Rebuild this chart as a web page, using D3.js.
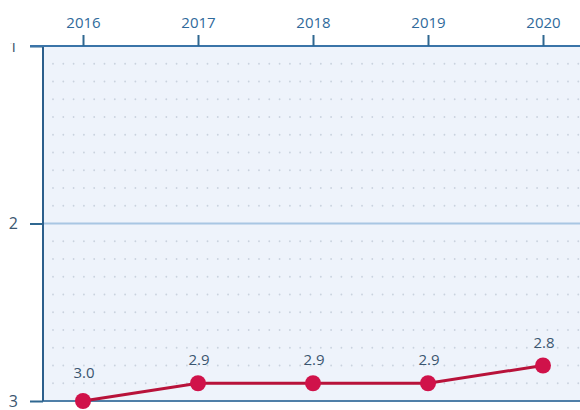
<!DOCTYPE html>
<html><head><meta charset="utf-8">
<script src="https://cdn.jsdelivr.net/npm/d3@7"></script>
<style>body{margin:0;background:#fff}svg{display:block}</style>
</head><body>
<svg id="c" width="580" height="410"></svg>
<script>
const years = ["2016","2017","2018","2019","2020"];
const values = [3.0, 2.9, 2.9, 2.9, 2.8];
const yTicks = [1, 2, 3];

(function () {
const svg = d3.select("#c");
const W = 580, H = 410;
const mLeft = 43, mTop = 46, mBottom = 401;
const font = "'Open Sans', sans-serif";

const x = d3.scalePoint().domain(years).range([83, 543]);
const y = d3.scaleLinear().domain([1, 3]).range([mTop, mBottom]);

// plot background
svg.append("rect").attr("x", mLeft).attr("y", mTop).attr("width", W - mLeft).attr("height", mBottom - mTop).attr("fill", "#eef3fb");

// dotted grid every 0.1
const grid = d3.range(11, 30).map(d => d / 10).filter(d => d !== 2);
const dotXs = d3.range(mLeft + 10, W, 10.3);
const gg = svg.append("g");
grid.forEach(v => {
  gg.append("g").selectAll("circle").data(dotXs).join("circle")
    .attr("cx", d => d).attr("cy", y(v)).attr("r", 0.9).attr("fill", "#c9d2de");
});

// solid line at 2
svg.append("line").attr("x1", mLeft).attr("x2", W).attr("y1", y(2)).attr("y2", y(2))
  .attr("stroke", "#a8c6e3").attr("stroke-width", 2);

// y axis
const clip = svg.append("clipPath").attr("id", "yc");
clip.append("rect").attr("x", -100).attr("y", mTop - 3).attr("width", 200).attr("height", H);
const yAxis = svg.append("g").attr("transform", `translate(${mLeft},0)`)
  .call(d3.axisLeft(y).tickValues(yTicks).tickSize(13).tickPadding(12).tickFormat(d3.format("d")));
yAxis.select(".domain").remove();
yAxis.selectAll(".tick line").attr("stroke", "#2f6790").attr("stroke-width", 2);
yAxis.selectAll(".tick text").attr("fill", "#3b5670").attr("font-size", 16).attr("font-family", font);
yAxis.attr("clip-path", "url(#yc)");

// bottom line
svg.append("line").attr("x1", mLeft).attr("x2", W).attr("y1", mBottom).attr("y2", mBottom)
  .attr("stroke", "#4f7fa8").attr("stroke-width", 2);

// left axis line
svg.append("line").attr("x1", mLeft).attr("x2", mLeft).attr("y1", mTop).attr("y2", mBottom)
  .attr("stroke", "#2c5f8c").attr("stroke-width", 2);

// top x axis
const xAxis = svg.append("g").attr("transform", `translate(0,${mTop})`)
  .call(d3.axisTop(x).tickSize(11).tickPadding(7));
xAxis.select(".domain").attr("d", `M${mLeft - 13},0H${W}`).attr("stroke", "#3a74a8").attr("stroke-width", 2);
xAxis.selectAll(".tick line").attr("stroke", "#2f6790").attr("stroke-width", 2);
xAxis.selectAll(".tick text").attr("fill", "#2f6a9b").attr("font-size", 15).attr("font-family", font);

// line
const line = d3.line().x((d, i) => x(years[i])).y(d => y(d));
svg.append("path").datum(values).attr("d", line).attr("fill", "none")
  .attr("stroke", "#b8123a").attr("stroke-width", 3);

svg.selectAll(".pt").data(values).join("circle").attr("class", "pt")
  .attr("cx", (d, i) => x(years[i])).attr("cy", d => y(d)).attr("r", 8)
  .attr("fill", "#d0124a");

svg.selectAll(".lbl").data(values).join("text").attr("class", "lbl")
  .attr("x", (d, i) => x(years[i]) + 1).attr("y", (d, i) => y(d) - (i === 0 ? 23 : 18))
  .attr("text-anchor", "middle").attr("font-size", 15).attr("font-family", font)
  .attr("fill", "#3b5670").text(d => d.toFixed(1));
})();
</script>
</body></html>
